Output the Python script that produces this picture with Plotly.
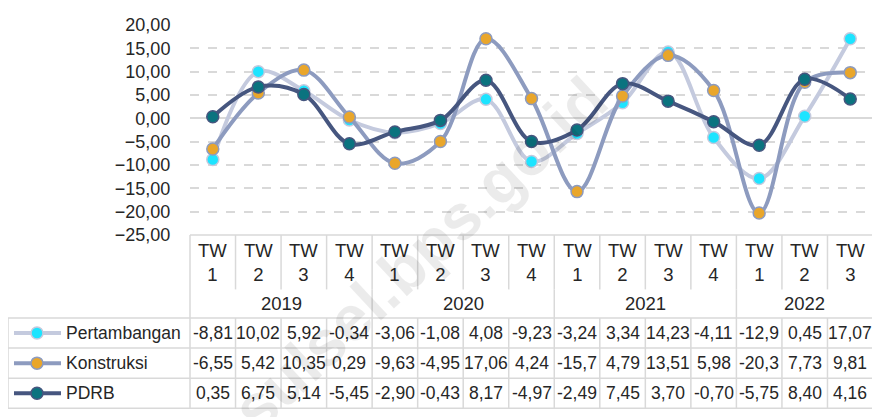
import plotly.graph_objects as go

# ---- data ----
quarters = ["TW<br>1", "TW<br>2", "TW<br>3", "TW<br>4",
            "TW<br>1", "TW<br>2", "TW<br>3", "TW<br>4",
            "TW<br>1", "TW<br>2", "TW<br>3", "TW<br>4",
            "TW<br>1", "TW<br>2", "TW<br>3"]
years = ["2019", "2020", "2021", "2022"]
year_span = [4, 4, 4, 3]
series_names = ["Pertambangan", "Konstruksi", "PDRB"]
pertambangan = [-8.81, 10.02, 5.92, -0.34, -3.06, -1.08, 4.08, -9.23,
                -3.24, 3.34, 14.23, -4.11, -12.9, 0.45, 17.07]
konstruksi = [-6.55, 5.42, 10.35, 0.29, -9.63, -4.95, 17.06, 4.24,
              -15.7, 4.79, 13.51, 5.98, -20.3, 7.73, 9.81]
pdrb = [0.35, 6.75, 5.14, -5.45, -2.90, -0.43, 8.17, -4.97,
        -2.49, 7.45, 3.70, -0.70, -5.75, 8.40, 4.16]

# ---- styles ----
FONT = "Liberation Sans, Arial, sans-serif"
FS = 17.5
TXT = "#262626"
GRID = "#d9d9d9"
line_colors = ["#c4cade", "#8d9bbf", "#46567f"]
marker_colors = ["#1de4ff", "#e9a62b", "#0a737f"]
marker_borders = ["#c4cade", "#8d9bbf", "#46567f"]

OFF = 8  # page body margin
W, H = 880 - OFF, 417 - OFF
# target plot area in window pixels: x 190..873, y 15..235
ML, MT = 190 - OFF, 15 - OFF
PW, PH = 873 - 190, 235 - 15
MR, MB = W - ML - PW, H - MT - PH


def px(X):
    return (X - OFF - ML) / PW


def py(Y):
    return (MT + PH - (Y - OFF)) / PH


def fmt(v):
    s = f"{v:.2f}".replace(".", ",")
    return s[:5] if len(s) > 5 else s


n = len(quarters)
xs = list(range(n))
fig = go.Figure()
for name, vals, lc, mc, mb in zip(series_names, [pertambangan, konstruksi, pdrb],
                                  line_colors, marker_colors, marker_borders):
    fig.add_trace(go.Scatter(
        x=xs, y=vals, name=name, mode="lines+markers",
        line=dict(color=lc, width=4, shape="spline", smoothing=1.0),
        marker=dict(color=mc, size=12, line=dict(color=mb, width=1.5)),
        showlegend=False, cliponaxis=False))

shapes = []
ann = []
lw = 1.5
BOT = 417

# table top line (axis line)
shapes.append(dict(type="line", xref="paper", yref="paper", x0=0, x1=1,
                   y0=py(235), y1=py(235), line=dict(color=GRID, width=lw)))
# quarter header separators
for i in range(1, n):
    shapes.append(dict(type="line", xref="x", yref="paper", x0=i - 0.5, x1=i - 0.5,
                       y0=py(235), y1=py(292), line=dict(color=GRID, width=lw)))
# left/right borders
for xx in [0, 1]:
    shapes.append(dict(type="line", xref="paper", yref="paper", x0=xx, x1=xx,
                       y0=py(235), y1=py(BOT), line=dict(color=GRID, width=lw)))
# year separators
pos = 0
year_centers = []
for sp in year_span:
    year_centers.append(pos + (sp - 1) / 2)
    pos += sp
    if pos < n:
        shapes.append(dict(type="line", xref="x", yref="paper", x0=pos - 0.5, x1=pos - 0.5,
                           y0=py(292), y1=py(322), line=dict(color=GRID, width=lw)))
# data rows grid
row_y = [322, 353.5, 385, 416.5]
for Y in row_y:
    shapes.append(dict(type="line", xref="paper", yref="paper", x0=px(8), x1=1,
                       y0=py(Y), y1=py(Y), line=dict(color=GRID, width=lw)))
for i in range(1, n):
    shapes.append(dict(type="line", xref="x", yref="paper", x0=i - 0.5, x1=i - 0.5,
                       y0=py(322), y1=py(BOT), line=dict(color=GRID, width=lw)))
shapes.append(dict(type="line", xref="paper", yref="paper", x0=px(8), x1=px(8),
                   y0=py(322), y1=py(BOT), line=dict(color=GRID, width=lw)))

# header text
for i, q in enumerate(quarters):
    ann.append(dict(x=i, y=py(264), xref="x", yref="paper", text=q, showarrow=False,
                    xanchor="center", yanchor="middle",
                    font=dict(family=FONT, size=FS + 1, color=TXT), align="center"))
for yc, yr in zip(year_centers, years):
    ann.append(dict(x=yc, y=py(307), xref="x", yref="paper", text=yr, showarrow=False,
                    xanchor="center", yanchor="middle",
                    font=dict(family=FONT, size=FS + 1, color=TXT)))

# data rows + legend keys
for r, (name, vals, lc, mc, mb) in enumerate(zip(series_names, [pertambangan, konstruksi, pdrb],
                                                line_colors, marker_colors, marker_borders)):
    cy = (row_y[r] + row_y[r + 1]) / 2
    for i, v in enumerate(vals):
        ann.append(dict(x=i, y=py(cy), xref="x", yref="paper", text=fmt(v), showarrow=False,
                        xanchor="center", yanchor="middle",
                        font=dict(family=FONT, size=FS, color=TXT)))
    ann.append(dict(x=px(64), y=py(cy), xref="paper", yref="paper", text=name, showarrow=False,
                    xanchor="left", yanchor="middle", font=dict(family=FONT, size=FS, color=TXT)))
    shapes.append(dict(type="line", xref="paper", yref="paper", x0=px(14), x1=px(61),
                       y0=py(cy), y1=py(cy), line=dict(color=lc, width=4)))
    shapes.append(dict(type="circle", xref="paper", yref="paper",
                       xsizemode="pixel", ysizemode="pixel",
                       xanchor=px(37), yanchor=py(cy), x0=-6, x1=6, y0=-6, y1=6,
                       fillcolor=mc, line=dict(color=mb, width=1.5)))

# watermark
ann.append(dict(x=px(420), y=py(255), xref="paper", yref="paper", text="<b>sulsel.bps.go.id</b>",
                showarrow=False, textangle=-43, xanchor="center", yanchor="middle",
                font=dict(family=FONT, size=64, color="rgba(0,0,0,0.08)")))

fig.update_layout(
    width=W, height=H, margin=dict(l=ML, r=MR, t=MT, b=MB, pad=0),
    paper_bgcolor="white", plot_bgcolor="white",
    separators=",.",
    shapes=shapes, annotations=ann,
    xaxis=dict(range=[-0.5, n - 0.5], showticklabels=False, showgrid=False,
               zeroline=False, showline=False, ticks=""),
    yaxis=dict(range=[-25, 20.02], tickvals=[20, 15, 10, 5, 0, -5, -10, -15, -20, -25],
               tickformat=".2f",
               showgrid=True, gridcolor=GRID, gridwidth=1.5, griddash="dash",
               zeroline=True, zerolinecolor=GRID, zerolinewidth=1.5,
               showline=False, ticks="outside", ticklen=15, tickcolor="rgba(0,0,0,0)",
               ticklabeloverflow="allow",
               tickfont=dict(family=FONT, size=FS + 0.5, color=TXT)),
)

fig.write_html("out.html")
